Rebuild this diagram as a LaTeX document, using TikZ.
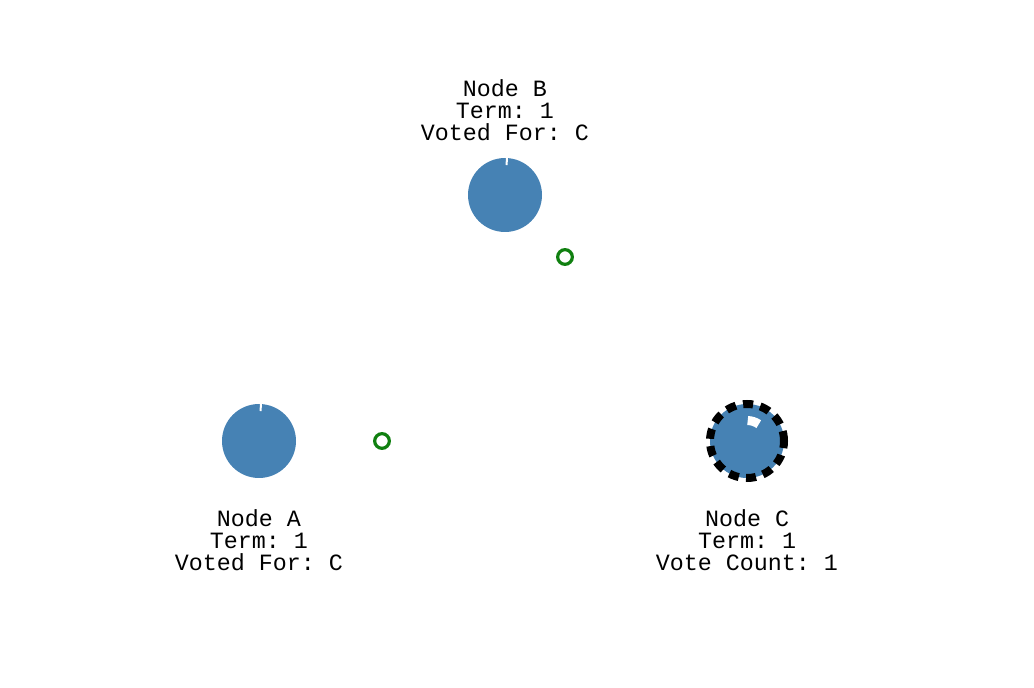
\documentclass[tikz,border=0pt]{standalone}
\usepackage{fontspec}
\setmonofont{Liberation Mono}
\definecolor{steel}{HTML}{4682B4}
\definecolor{msggreen}{HTML}{108010}
\tikzset{
  server/.style={circle, fill=steel, minimum size=55.5pt, inner sep=0pt},
  leader/.style={server, draw=black, line width=6pt, dash pattern=on 7.5pt off 5.5pt},
  msg/.style={circle, draw=msggreen, line width=2.4pt, minimum size=11pt, inner sep=0pt},
  info/.style={align=center, anchor=base, inner sep=0pt, font=\ttfamily\fontsize{17.5}{16.5}\selectfont},
  notch/.style={draw=white, line width=1.5pt}
}
\begin{document}
\begin{tikzpicture}[x=0.75pt, y=0.75pt]
  \useasboundingbox (0,0) rectangle (1034,688);
  \node[server] (A) at (259,247) {};
  \node[server] (B) at (505,493) {};
  \node[leader] (C) at (747,247) {};

  \node[msg] (mA) at (382,247) {};
  \node[msg] (mB) at (565,431) {};

  \node[info] (tA) at (259,117) {Node A\\Term: 1\\Voted For: C};
  \node[info] (tB) at (505,547) {Node B\\Term: 1\\Voted For: C};
  \node[info] (tC) at (747,117) {Node C\\Term: 1\\Vote Count: 1};

  % timers
  \draw[notch] ([shift={(87:30)}]A.center) -- ([shift={(87:38)}]A.center);
  \draw[notch] ([shift={(87:30)}]B.center) -- ([shift={(87:38)}]B.center);
  \draw[white, line width=6.75pt] ([shift={(88:20.5)}]C.center) arc[start angle=88, end angle=55, radius=20.5];
\end{tikzpicture}
\end{document}
